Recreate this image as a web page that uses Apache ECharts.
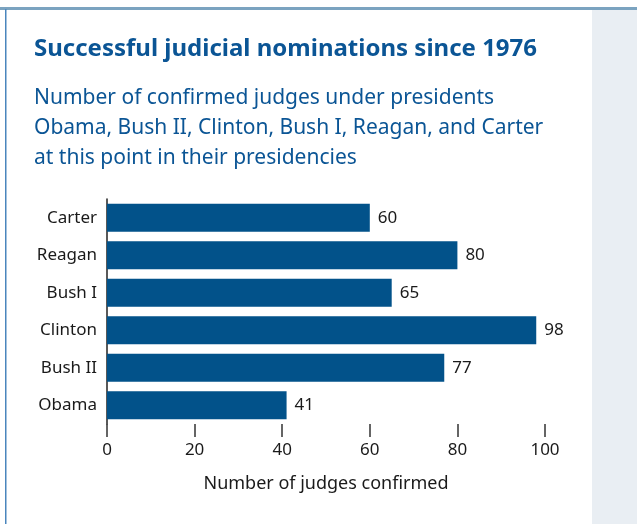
<!DOCTYPE html>
<html>
	<head>
		<meta charset="UTF-8">
		<title></title>
		<script src="https://cdn.jsdelivr.net/npm/echarts@6/dist/echarts.min.js"></script>
		<style>
			body { margin: 0; background: #fff; }
		</style>
	</head>
	<body>
		<div id="chart" style="width: 637px;height: 524px;"></div>
		<script type="text/javascript">
			// presidents, top to bottom as drawn
			var presidents = ['Carter', 'Reagan', 'Bush I', 'Clinton', 'Bush II', 'Obama'];
			var confirmed = [60, 80, 65, 98, 77, 41];
			var xTicks = [0, 20, 40, 60, 80, 100];

			var font = 'Noto Sans';
			var myChart = echarts.init(document.getElementById('chart'));

			var option = {
				animation: false,
				textStyle: { fontFamily: font },
				graphic: [
					// grey side panel
					{ type: 'rect', shape: { x: 592, y: 9, width: 45, height: 515 }, style: { fill: '#e9eef3' }, z: -10 },
					// top rule
					{ type: 'rect', shape: { x: 0, y: 7, width: 637, height: 3 }, style: { fill: '#7ba3c0' }, z: -5 },
					// left rule
					{ type: 'rect', shape: { x: 5, y: 9, width: 1.5, height: 515 }, style: { fill: '#4a86bd' }, z: -5 }
				],
				title: [
					{
						text: 'Successful judicial nominations since 1976',
						left: 29,
						top: 32,
						textStyle: { color: '#0b5595', fontSize: 24, fontWeight: 'bold', fontFamily: font }
					},
					{
						text: 'Number of confirmed judges under presidents\nObama, Bush II, Clinton, Bush I, Reagan, and Carter\nat this point in their presidencies',
						left: 29,
						top: 78,
						textStyle: { color: '#0b5595', fontSize: 21, fontWeight: 'normal', lineHeight: 30, fontFamily: font }
					}
				],
				grid: { left: 107, right: 92, top: 199, bottom: 100, containLabel: false },
				xAxis: {
					type: 'value',
					min: 0,
					max: 100,
					interval: 20,
					name: 'Number of judges confirmed',
					nameLocation: 'middle',
					nameGap: 51,
					nameTextStyle: { color: '#1a1a1a', fontSize: 18 },
					axisLine: { show: false },
					axisTick: { show: true, length: 13, lineStyle: { color: '#333', width: 1.5 } },
					axisLabel: {
						color: '#1a1a1a', fontSize: 17, margin: 18,
						formatter: function (v) { return xTicks.indexOf(v) >= 0 ? String(v) : ''; }
					},
					splitLine: { show: false }
				},
				yAxis: {
					type: 'category',
					inverse: true,
					data: presidents,
					axisLine: { show: true, lineStyle: { color: '#222', width: 1.5 } },
					axisTick: { show: false },
					axisLabel: { color: '#1a1a1a', fontSize: 17, margin: 10 }
				},
				series: [
					{
						type: 'bar',
						data: confirmed,
						barWidth: 28,
						itemStyle: { color: '#02528a' },
						label: {
							show: true,
							position: 'right',
							distance: 8,
							color: '#1a1a1a',
							fontSize: 17,
							fontFamily: font
						}
					}
				]
			};
			myChart.setOption(option);
		</script>
	</body>
</html>
